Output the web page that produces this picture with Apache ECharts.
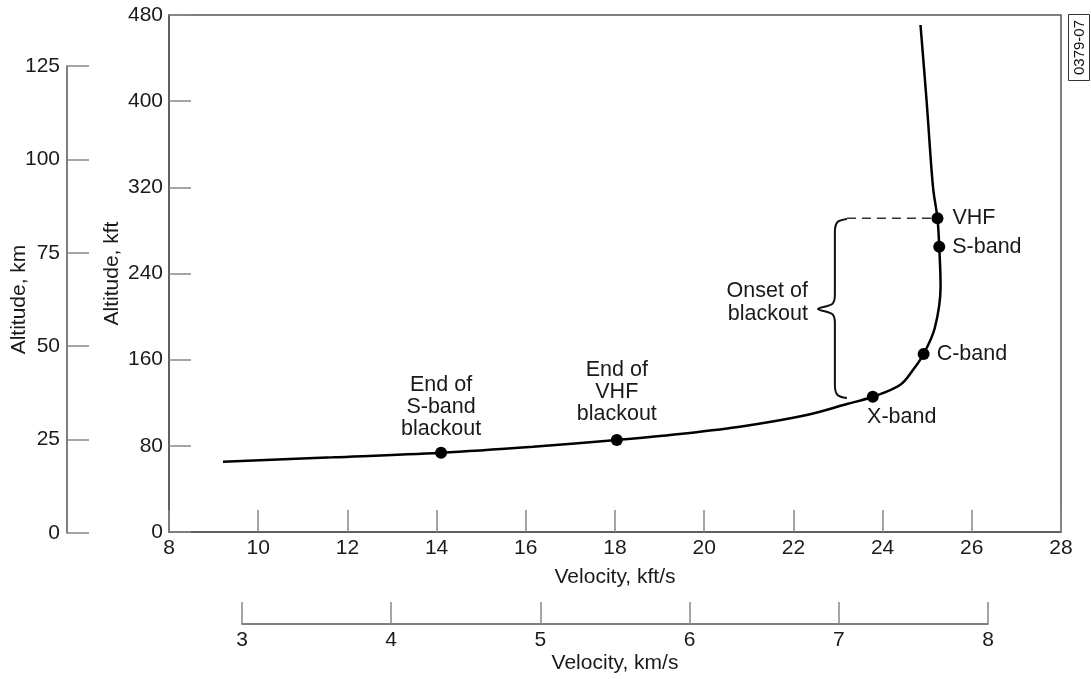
<!DOCTYPE html>
<html><head><meta charset="utf-8">
<script src="https://cdn.jsdelivr.net/npm/echarts@6/dist/echarts.min.js"></script>
<style>html,body{margin:0;padding:0;background:#fff}#c{width:1091px;height:679px}</style>
</head><body><div id="c"></div>
<script>
// Trajectory (velocity kft/s, altitude kft)
const trajVel = [9.21, 11.68, 14.10, 16.16, 18.04, 19.01, 20.80, 22.30, 23.20, 23.78, 24.39, 24.68, 24.92, 25.17, 25.30, 25.27, 25.23, 25.13, 24.99, 24.85];
const trajAlt = [65.3, 69.3, 73.6, 79.2, 85.4, 89.1, 97.8, 108.6, 118.8, 125.6, 136.5, 150.4, 165.3, 189.4, 227.7, 264.9, 291.2, 320.3, 398.3, 470.7];
// Blackout events
const eventLabels = ['End of\nS-band\nblackout', 'End of\nVHF\nblackout', 'X-band', 'C-band', 'S-band', 'VHF'];
const eventVel = [14.10, 18.04, 23.78, 24.92, 25.27, 25.23];
const eventAlt = [73.6, 85.4, 125.6, 165.3, 264.9, 291.2];
// Brace annotation "Onset of blackout"
const braceVel = [23.20, 22.99, 22.93, 22.93, 22.87, 22.55, 22.87, 22.93, 22.93, 22.99, 23.20];
const braceAlt = [290.6, 287.8, 278.5, 220.0, 211.7, 207.0, 202.4, 194.0, 136.5, 127.2, 124.4];
const onsetLabel = 'Onset of\nblackout';
const dashVel = [23.20, 25.23];
const dashAlt = [291.2, 291.2];
// Axes
const kftVelRange = [8, 28, 2];
const kftAltRange = [0, 480, 80];
const kmAltRange = [0, 125, 25];
const kmVelRange = [3, 8, 1];

const FONT = "'Liberation Sans', Arial, Helvetica, sans-serif";
const TXT = '#1a1a1a';
const AX = '#555';
const FS = 21;
const AFS = 21.5;

const eventLabelCfg = [
  {position: 'top', distance: 7},
  {position: 'top', distance: 9},
  {position: 'bottom', distance: 3, offset: [29, 0]},
  {position: 'right', distance: 7},
  {position: 'right', distance: 7},
  {position: 'right', distance: 9}
];

function axisBase(r) {
  return {
    type: 'value', min: r[0], max: r[1], interval: r[2],
    axisLine: {show: true, onZero: false, lineStyle: {color: AX, width: 1.5}},
    axisTick: {show: true, inside: true, length: 22, lineStyle: {color: '#888', width: 1.5}},
    axisLabel: {color: TXT, fontSize: FS, fontFamily: FONT, margin: 6},
    splitLine: {show: false},
    nameTextStyle: {color: TXT, fontSize: FS, fontFamily: FONT},
    nameLocation: 'middle',
    nameMoveOverlap: false
  };
}

const chart = echarts.init(document.getElementById('c'), null, {renderer: 'canvas'});
chart.setOption({
  backgroundColor: '#fff',
  animation: false,
  grid: [
    {left: 169, right: 30, top: 15, bottom: 147, show: true, borderColor: AX, borderWidth: 1.5},
    {left: 67, width: 10, top: 66, bottom: 146},
    {left: 242, right: 103, top: 600, bottom: 55}
  ],
  xAxis: [
    Object.assign(axisBase(kftVelRange), {gridIndex: 0, name: 'Velocity, kft/s', nameGap: 35}),
    {gridIndex: 1, type: 'value', show: false, min: 0, max: 1},
    Object.assign(axisBase(kmVelRange), {gridIndex: 2, name: 'Velocity, km/s', nameGap: 29})
  ],
  yAxis: [
    Object.assign(axisBase(kftAltRange), {gridIndex: 0, name: 'Altitude, kft', nameGap: 46}),
    Object.assign(axisBase(kmAltRange), {gridIndex: 1, name: 'Altitude, km', nameGap: 37, axisLabel: {color: TXT, fontSize: FS, fontFamily: FONT, margin: 7}}),
    {gridIndex: 2, type: 'value', show: false, min: 0, max: 1}
  ],
  series: [
    {
      type: 'line', xAxisIndex: 0, yAxisIndex: 0, smooth: 0.35, symbol: 'none',
      lineStyle: {color: '#000', width: 2.5},
      data: trajVel.map((v, i) => [v, trajAlt[i]]), z: 3
    },
    {
      type: 'line', xAxisIndex: 0, yAxisIndex: 0, smooth: 0.3, symbol: 'none',
      lineStyle: {color: '#111', width: 2},
      data: braceVel.map((v, i) => [v, braceAlt[i]]), z: 2
    },
    {
      type: 'line', xAxisIndex: 0, yAxisIndex: 0, symbol: 'none',
      lineStyle: {color: '#333', width: 1.5, type: [9, 6]},
      data: dashVel.map((v, i) => [v, dashAlt[i]]), z: 2
    },
    {
      type: 'scatter', xAxisIndex: 0, yAxisIndex: 0, symbolSize: 0.1,
      itemStyle: {color: 'rgba(0,0,0,0)', opacity: 1},
      label: {show: true, position: 'left', distance: 10, offset: [0, -6], formatter: onsetLabel, color: TXT, fontSize: AFS, fontFamily: FONT, lineHeight: 23, align: 'right'},
      data: [[braceVel[5], braceAlt[5]]], z: 4
    },
    {
      type: 'scatter', xAxisIndex: 0, yAxisIndex: 0, symbolSize: 12,
      itemStyle: {color: '#000', opacity: 1},
      label: {show: true, color: TXT, fontSize: AFS, fontFamily: FONT, lineHeight: 22},
      data: eventVel.map((v, i) => ({
        value: [v, eventAlt[i]],
        label: Object.assign({formatter: eventLabels[i]}, eventLabelCfg[i])
      })), z: 5
    }
  ],
  graphic: [{
    type: 'group', left: 1068, top: 14,
    children: [
      {type: 'rect', shape: {x: 0, y: 0, width: 21, height: 66}, style: {fill: '#fff', stroke: '#333', lineWidth: 1}},
      {type: 'text', x: 11, y: 33, rotation: Math.PI / 2,
       style: {text: '0379-07', fontSize: 15, fontFamily: FONT, fill: '#111', align: 'center', verticalAlign: 'middle'}}
    ]
  }]
});
</script></body></html>
